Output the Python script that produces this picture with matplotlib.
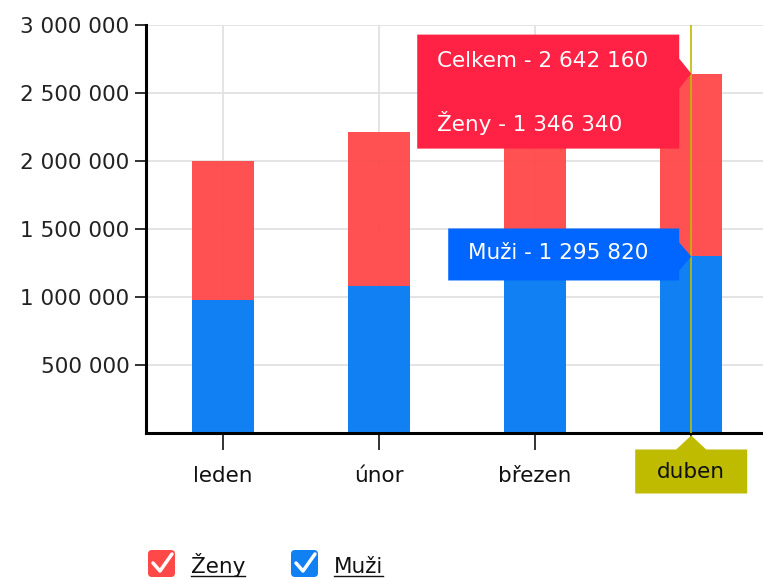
import matplotlib.pyplot as plt
import matplotlib.transforms as mtransforms
from matplotlib.patches import Polygon, FancyBboxPatch
from matplotlib.lines import Line2D
import numpy as np

mesice = ['leden', 'únor', 'březen', 'duben']
zeny = [1024000, 1133000, 1230000, 1346340]
muzi = [976000, 1080000, 1190000, 1295820]
yticks = [500000, 1000000, 1500000, 2000000, 2500000, 3000000]

c_zeny = '#ff4848'
c_muzi = '#1180f2'
c_tip_zeny = '#ff2244'
c_tip_muzi = '#0066ff'
c_sel = '#bfbb00'


def fmt(v):
    return f"{int(v):,}".replace(',', ' ')


fig = plt.figure(figsize=(7.63, 5.80), dpi=100)
ax = fig.add_axes([146 / 763, 147.5 / 580, 617 / 763, 407.5 / 580])

x = np.arange(len(mesice))
celkem = np.array(zeny) + np.array(muzi)
ax.bar(x, muzi, width=0.4, color=c_muzi, zorder=2)
ax.bar(x, zeny, bottom=muzi, width=0.4, color=c_zeny, alpha=0.95, zorder=2)

ax.set_xlim(-0.494, 3.46)
ax.set_ylim(0, 3000000)
ax.set_yticks(yticks)
ax.set_yticklabels([fmt(v) for v in yticks])
ax.set_xticks(x)
ax.set_xticklabels(mesice)
ax.get_xticklabels()[-1].set_visible(False)

for v in yticks:
    ax.axhline(v, color='#e2e2e2', lw=1.3, zorder=0)
for i in x[:-1]:
    ax.axvline(i, color='#e2e2e2', lw=1.3, zorder=0)

for s in ['top', 'right']:
    ax.spines[s].set_visible(False)
for s in ['left', 'bottom']:
    ax.spines[s].set_linewidth(2.2)
    ax.spines[s].set_color('black')

ax.tick_params(axis='y', length=8, width=1.3, color='#222222', pad=4,
               labelsize=15.5, labelcolor='#222222')
ax.tick_params(axis='x', length=12, width=1.3, color='#222222', pad=12,
               labelsize=15.5, labelcolor='#111111')

# vybrany mesic
sel = 3
ax.axvline(sel, color=c_sel, lw=1.2, zorder=5)


def pix(xd, yd):
    # posun v pixelech od bodu v datech
    return mtransforms.Affine2D() + mtransforms.ScaledTranslation(xd, yd, ax.transData)


# stitek osy x
tr = pix(sel, 0)
ax.add_patch(Polygon([(-56, -17), (-15, -17), (0, -3), (15, -17), (56, -17),
                      (56, -61), (-56, -61)], closed=True, facecolor=c_sel,
                     edgecolor='none', transform=tr, clip_on=False, zorder=10))
ax.text(0, -40, mesice[sel], transform=tr, ha='center', va='center',
        fontsize=15.5, color='#111111', zorder=11, clip_on=False)

# tooltip zeny / celkem
tr = pix(sel, celkem[sel])
ax.add_patch(Polygon([(-274, 39), (-12, 39), (-12, 15), (0, 0), (-12, -15),
                      (-12, -75), (-274, -75)], closed=True, facecolor=c_tip_zeny,
                     edgecolor='none', transform=tr, clip_on=False, zorder=10))
ax.text(-254, 13, 'Celkem - ' + fmt(celkem[sel]), transform=tr, ha='left',
        va='center', fontsize=15.5, color='white', zorder=11)
ax.text(-254, -49, 'Ženy - ' + fmt(zeny[sel]), transform=tr, ha='left',
        va='center', fontsize=15.5, color='white', zorder=11)

# tooltip muzi
tr = pix(sel, muzi[sel])
ax.add_patch(Polygon([(-243, 28), (-12, 28), (-12, 14), (0, 0), (-12, -14),
                      (-12, -24), (-243, -24)], closed=True, facecolor=c_tip_muzi,
                     edgecolor='none', transform=tr, clip_on=False, zorder=10))
ax.text(-223, 3, 'Muži - ' + fmt(muzi[sel]), transform=tr, ha='left',
        va='center', fontsize=15.5, color='white', zorder=11)

# legenda se zaskrtavacimi policky
ident = mtransforms.Affine2D()
for x0, col, lab in [(146, c_zeny, 'Ženy'), (289, c_muzi, 'Muži')]:
    fig.patches.append(FancyBboxPatch((x0 + 2, 3), 27, 27,
                                      boxstyle='round,pad=0,rounding_size=4',
                                      facecolor=col, edgecolor='none',
                                      transform=ident))
    fig.lines.append(Line2D([x0 + 7, x0 + 14, x0 + 26], [17, 9, 26],
                            color='white', lw=2.5, transform=ident,
                            solid_capstyle='round', solid_joinstyle='round'))
    t = fig.text(x0 + 45, 7, lab, transform=ident, ha='left', va='baseline',
                 fontsize=15.5, color='#111111')
    fig.canvas.draw()
    bb = t.get_window_extent()
    fig.lines.append(Line2D([bb.x0, bb.x1], [4, 4], color='#111111', lw=1,
                            transform=ident))

fig.savefig('out.png', dpi=100)
